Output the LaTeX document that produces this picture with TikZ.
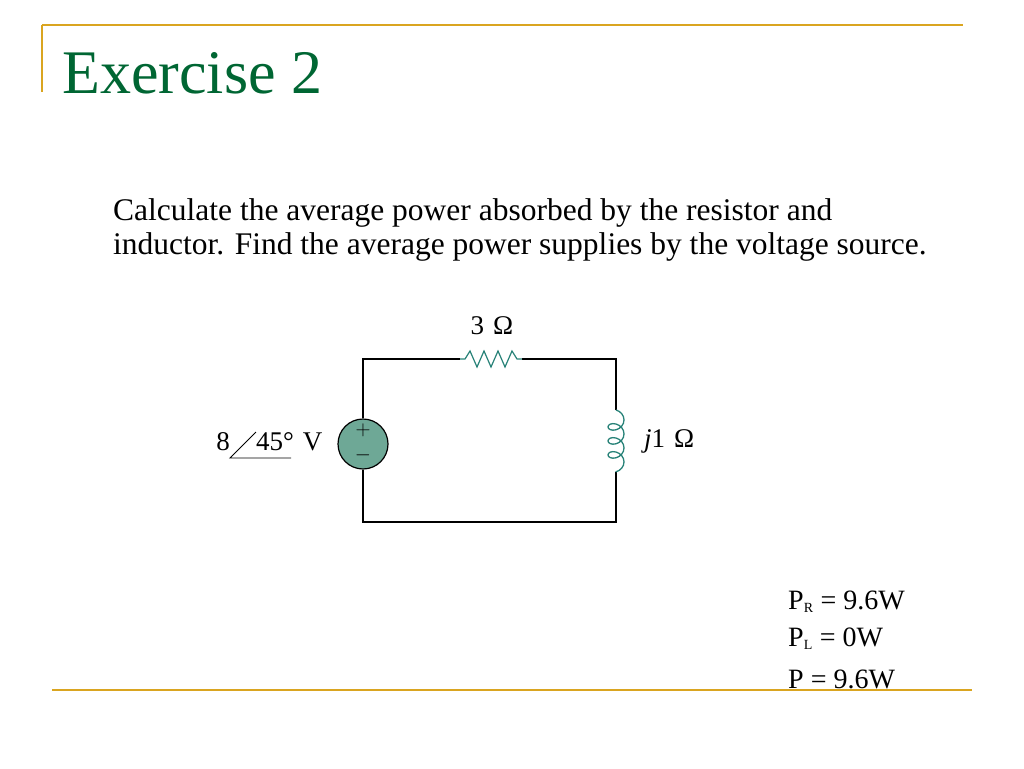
\documentclass[tikz,border=0pt]{standalone}
\usepackage{fontspec}
\setmainfont{Liberation Serif}
\usetikzlibrary{decorations.pathmorphing}
\definecolor{gold}{RGB}{218,165,32}
\definecolor{titlegreen}{RGB}{0,102,51}
\definecolor{elem}{RGB}{40,130,120}
\definecolor{srcfill}{RGB}{110,168,150}
\tikzset{
  wire/.style={line width=1.2pt, black},
  label/.style={font=\fontsize{27}{30}\selectfont, inner sep=0pt},
  body/.style={font=\fontsize{31.5}{36}\selectfont, inner sep=0pt, anchor=base west},
  eqn/.style={font=\fontsize{28}{32}\selectfont, inner sep=0pt, anchor=base west}
}
\begin{document}
\begin{tikzpicture}[x=1pt,y=-1pt]
    \useasboundingbox (0,0) rectangle (1024,768);
    % Frame lines
    \draw[gold, line width=1.5pt] (42,25) -- (963,25);
    \draw[gold, line width=1.5pt] (42,25) -- (42,92);
    \draw[gold, line width=2pt] (52,690) -- (972,690);

    % Title and text
    \node[anchor=base west, inner sep=0pt, text=titlegreen, font=\fontsize{62}{66}\selectfont] (title) at (62,93) {Exercise 2};
    \node[body] (line-a) at (113,220) {Calculate the average power absorbed by the resistor and};
    \node[body] (line-b) at (113,254) {inductor. Find the average power supplies by the voltage source.};

    % Corners
    \coordinate (tl) at (363,359);
    \coordinate (tr) at (616,359);
    \coordinate (bl) at (363,522);
    \coordinate (br) at (616,522);
    \coordinate (r-in) at (460,359);
    \coordinate (r-out) at (522,359);
    \coordinate (l-in) at (616,410);
    \coordinate (l-out) at (616,472);
    \node[circle, draw=black, line width=1.2pt, fill=srcfill, minimum size=50pt, inner sep=0pt] (src) at (363,444) {};
    \node[font=\fontsize{20}{20}\selectfont] (plus) at (363,430) {$+$};
    \node[font=\fontsize{20}{20}\selectfont] (minus) at (363,455) {$-$};

    % Wires
    \draw[wire] (src.north) -- (tl) -- (r-in);
    \draw[wire] (r-out) -- (tr) -- (l-in);
    \draw[wire] (l-out) -- (br) -- (bl) -- (src.south);

    % Resistor
    \draw[elem, line width=1.2pt] (r-in) -- ++(5,0) -- ++(5,-8) -- ++(7,16) -- ++(7,-16) -- ++(7,16) -- ++(7,-16) -- ++(7,16) -- ++(7,-16) -- ++(5,8) -- (r-out);
    % Inductor
    \draw[elem, line width=1.3pt, decorate, decoration={coil, aspect=0.8, amplitude=8pt, segment length=14pt}] (l-in) -- (l-out);

    % Labels
    \node[label] (r-lab) at (492,326) {3\,\,Ω};
    \node[label, anchor=west] (l-lab) at (644,441) {\textit{j}1\,\,Ω};
    \node[label, anchor=base east] (v-num) at (230,450) {8};
    \node[label, anchor=base west] (v-ang) at (256,450) {45°\,\,V};
    \coordinate (ang-a) at (230,458);
    \coordinate (ang-b) at (256,432);
    \coordinate (ang-c) at (291,458);
    \draw[line width=0.9pt] (ang-b) -- (ang-a) -- (ang-c);

    % Results
    \node[eqn] (pr) at (788,609) {P\textsubscript{\fontsize{14}{14}\selectfont R} = 9.6W};
    \node[eqn] (pl) at (788,646) {P\textsubscript{\fontsize{14}{14}\selectfont L} = 0W};
    \node[eqn] (p) at (788,688) {P = 9.6W};
\end{tikzpicture}
\end{document}
